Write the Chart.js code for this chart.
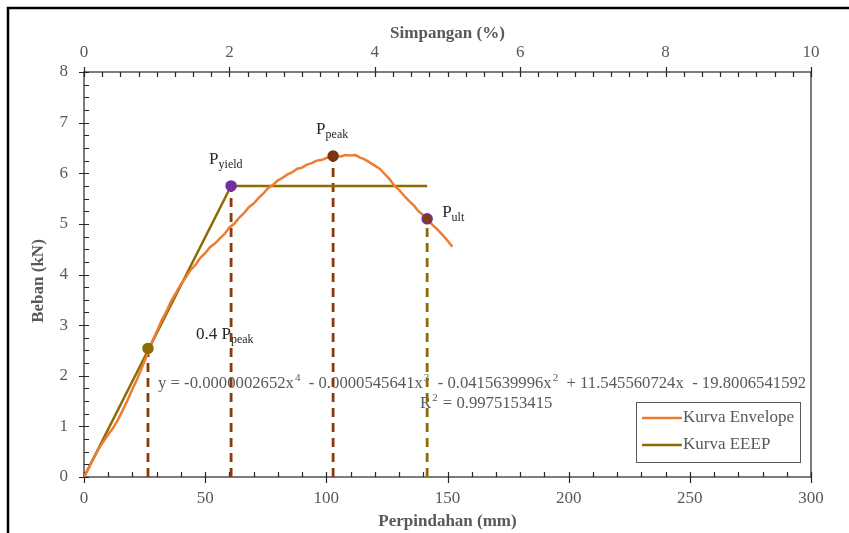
<!DOCTYPE html>
<html>
<head>
<meta charset="utf-8">
<script src="https://cdn.jsdelivr.net/npm/chart.js@4.4.1/dist/chart.umd.min.js"></script>
<style>
    html, body { margin: 0; padding: 0; background: #fff; }
    #wrap { width: 849px; height: 533px; position: relative; }
</style>
</head>
<body>
<div id="wrap"><canvas id="chart-beban" width="849" height="533"></canvas></div>
<script>
// Kurva Envelope (mm, kN)
const envelopeX = [0, 2, 4, 6, 8, 10, 12, 14, 16, 18, 20, 22, 24, 26, 28, 30, 32, 34, 36, 38,
    40, 42, 44, 46, 48, 50, 52, 54, 56, 58, 60, 62, 64, 66, 68, 70, 72, 74, 76, 78,
    80, 82, 84, 86, 88, 90, 92, 94, 96, 98, 100, 102, 104, 106, 108, 110, 112, 114, 116, 118,
    120, 122, 124, 126, 128, 130, 132, 134, 136, 138, 140, 142, 144, 146, 148, 150, 152];
const envelopeY = [0, 0.18, 0.37, 0.55, 0.70, 0.84, 0.97, 1.13, 1.32, 1.52, 1.74, 1.94, 2.17, 2.41, 2.66, 2.87, 3.09, 3.27, 3.48, 3.64,
    3.81, 3.94, 4.09, 4.19, 4.33, 4.42, 4.54, 4.61, 4.71, 4.80, 4.93, 5.00, 5.12, 5.21, 5.33, 5.40, 5.51, 5.60, 5.71, 5.77,
    5.86, 5.91, 5.98, 6.02, 6.09, 6.11, 6.17, 6.20, 6.25, 6.26, 6.30, 6.32, 6.34, 6.33, 6.36, 6.35, 6.36, 6.31, 6.27, 6.21,
    6.15, 6.09, 5.99, 5.89, 5.76, 5.67, 5.56, 5.46, 5.37, 5.25, 5.17, 5.07, 4.97, 4.88, 4.78, 4.67, 4.55];

// Kurva EEEP
const eeepX = [0, 60.7, 141.6];
const eeepY = [0, 5.75, 5.75];

// Titik penting: 0.4 Ppeak, Pyield, Ppeak, Pult
const titikNama = ['0.4 P', 'P', 'P', 'P'];
const titikSub = ['peak', 'yield', 'peak', 'ult'];
const titikX = [26.4, 60.7, 102.8, 141.6];
const titikY = [2.54, 5.75, 6.34, 5.10];

// Sumbu
const xTicks = [0, 50, 100, 150, 200, 250, 300];
const x2Ticks = [0, 2, 4, 6, 8, 10];
const yTicks = [0, 1, 2, 3, 4, 5, 6, 7, 8];

const persamaan = [
    ['y = -0.0000002652x', '4'], ['  - 0.0000545641x', '3'], ['  - 0.0415639996x', '2'],
    ['  + 11.545560724x  - 19.8006541592', '']
];
const rKuadrat = '0.9975153415';

const COLORS = {
    envelope: '#ED7D31',
    eeep: '#8C6D05',
    dashBrown: '#8B3A0F',
    dashOlive: '#8C6D05',
    purple: '#7030A0',
    text: '#595959',
    dark: '#262626'
};
const FONT = '"Liberation Serif", "Times New Roman", serif';
const FS = 17;

const markerFill = [COLORS.eeep, COLORS.purple, '#7B3510', '#843C0C'];
const markerBorder = [COLORS.eeep, COLORS.purple, '#7B3510', COLORS.purple];
const dashColor = [COLORS.dashBrown, COLORS.dashBrown, COLORS.dashBrown, COLORS.dashOlive];

const toXY = (xs, ys) => xs.map((x, i) => ({ x: x, y: ys[i] }));

const datasets = [
    {
        label: 'Kurva Envelope',
        data: toXY(envelopeX, envelopeY),
        borderColor: COLORS.envelope,
        borderWidth: 2.5,
        pointRadius: 0,
        showLine: true,
        order: 2
    },
    {
        label: 'Kurva EEEP',
        data: toXY(eeepX, eeepY),
        borderColor: COLORS.eeep,
        borderWidth: 2.5,
        pointRadius: 0,
        showLine: true,
        order: 3
    }
];

// Garis putus-putus vertikal
titikX.forEach((x, i) => {
    datasets.push({
        label: 'dash' + i,
        data: [{ x: x, y: 0 }, { x: x, y: titikY[i] }],
        borderColor: dashColor[i],
        borderWidth: 2.8,
        borderDash: [9, 6],
        pointRadius: 0,
        showLine: true,
        order: 4
    });
});

// Titik
titikX.forEach((x, i) => {
    datasets.push({
        label: 'titik' + i,
        data: [{ x: x, y: titikY[i] }],
        backgroundColor: markerFill[i],
        borderColor: markerBorder[i],
        borderWidth: 1.5,
        pointRadius: 5,
        showLine: false,
        order: 0
    });
});

function drawSub(ctx, x, y, main, sub, size) {
    ctx.font = size + 'px ' + FONT;
    ctx.textAlign = 'left';
    ctx.textBaseline = 'alphabetic';
    ctx.fillText(main, x, y);
    const w = ctx.measureText(main).width;
    ctx.font = Math.round(size * 0.72) + 'px ' + FONT;
    ctx.fillText(sub, x + w, y + 4);
}

const gambarPlugin = {
    id: 'gambar',
    beforeDatasetsDraw(chart) {
        const { ctx, chartArea: a, scales } = chart;
        const sx = scales.x, sy = scales.y, sx2 = scales.x2;
        ctx.save();

        // Rahmen dokumen
        ctx.strokeStyle = '#000';
        ctx.lineWidth = 2.5;
        ctx.beginPath();
        ctx.moveTo(8, 533);
        ctx.lineTo(8, 8);
        ctx.lineTo(849, 8);
        ctx.stroke();

        // Kotak area plot
        ctx.strokeStyle = '#262626';
        ctx.lineWidth = 1.2;
        ctx.strokeRect(a.left, a.top, a.right - a.left, a.bottom - a.top);

        // Tick mayor & minor
        ctx.lineWidth = 1.2;
        ctx.beginPath();
        for (let v = 0; v <= 8.001; v += 0.25) {
            const py = Math.round(sy.getPixelForValue(v)) + 0.5;
            const major = Math.abs(v - Math.round(v)) < 0.01;
            ctx.moveTo(major ? a.left - 5 : a.left, py);
            ctx.lineTo(a.left + 5, py);
        }
        for (let v = 0; v <= 300.01; v += 10) {
            const px = Math.round(sx.getPixelForValue(v)) + 0.5;
            const major = v % 50 === 0;
            ctx.moveTo(px, major ? a.bottom + 6 : a.bottom);
            ctx.lineTo(px, a.bottom - 5);
        }
        for (let v = 0; v <= 10.001; v += 0.25) {
            const px = Math.round(sx2.getPixelForValue(v)) + 0.5;
            const major = Math.abs(v / 2 - Math.round(v / 2)) < 0.01;
            ctx.moveTo(px, major ? a.top - 5 : a.top);
            ctx.lineTo(px, a.top + 5);
        }
        ctx.stroke();

        // Judul sumbu
        ctx.fillStyle = COLORS.text;
        ctx.font = 'bold ' + FS + 'px ' + FONT;
        ctx.textAlign = 'center';
        ctx.textBaseline = 'middle';
        ctx.fillText('Simpangan (%)', (a.left + a.right) / 2, 34);
        ctx.fillText('Perpindahan (mm)', (a.left + a.right) / 2, 522);
        ctx.save();
        ctx.translate(39, 281);
        ctx.rotate(-Math.PI / 2);
        ctx.fillText('Beban (kN)', 0, 0);
        ctx.restore();

        // Persamaan regresi
        ctx.fillStyle = COLORS.text;
        let ex = 158;
        const ey = 388;
        const eqFont = '16.7px ' + FONT;
        persamaan.forEach(([teks, pangkat]) => {
            ctx.font = eqFont;
            ctx.textAlign = 'left';
            ctx.textBaseline = 'alphabetic';
            ctx.fillText(teks, ex, ey);
            ex += ctx.measureText(teks).width;
            if (pangkat) {
                ctx.font = '11px ' + FONT;
                ctx.fillText(pangkat, ex + 1, ey - 7);
                ex += ctx.measureText(pangkat).width + 1;
            }
        });
        ctx.font = eqFont;
        const rx = 420;
        ctx.fillText('R', rx, 408);
        let rw = ctx.measureText('R').width;
        ctx.font = '11px ' + FONT;
        ctx.fillText('2', rx + rw + 1, 401);
        rw += ctx.measureText('2').width + 2;
        ctx.font = eqFont;
        ctx.fillText(' = ' + rKuadrat, rx + rw, 408);

        // Label titik
        ctx.fillStyle = COLORS.dark;
        const offs = [[-48, -8], [-22, -22], [-17, -22], [15, -2]];
        titikX.forEach((x, i) => {
            let px = sx.getPixelForValue(x) + offs[i][0];
            let py = sy.getPixelForValue(titikY[i]) + offs[i][1];
            if (i === 0) {
                px = 196;
                py = 339;
            }
            drawSub(ctx, px, py, titikNama[i], titikSub[i], FS);
        });

        ctx.restore();
    },
    afterDraw(chart) {
        const { ctx } = chart;
        ctx.save();
        // Legenda
        const lx = 636, ly = 402, lw = 164, lh = 60;
        ctx.fillStyle = '#fff';
        ctx.fillRect(lx, ly, lw, lh);
        ctx.strokeStyle = '#595959';
        ctx.lineWidth = 1;
        ctx.strokeRect(lx + 0.5, ly + 0.5, lw, lh);
        const items = [datasets[0], datasets[1]];
        items.forEach((ds, i) => {
            const yy = ly + 16 + i * 27;
            ctx.strokeStyle = ds.borderColor;
            ctx.lineWidth = 2.5;
            ctx.beginPath();
            ctx.moveTo(lx + 6, yy);
            ctx.lineTo(lx + 46, yy);
            ctx.stroke();
            ctx.fillStyle = COLORS.text;
            ctx.font = FS + 'px ' + FONT;
            ctx.textAlign = 'left';
            ctx.textBaseline = 'middle';
            ctx.fillText(ds.label, lx + 47, yy);
        });
        ctx.restore();
    }
};

const tickFont = { family: FONT, size: FS };

new Chart(document.getElementById('chart-beban'), {
    type: 'scatter',
    data: { datasets: datasets },
    options: {
        responsive: false,
        animation: false,
        devicePixelRatio: 1,
        layout: { padding: { left: 0, right: 38, top: 0, bottom: 0 } },
        plugins: {
            legend: { display: false },
            tooltip: { enabled: false }
        },
        scales: {
            x: {
                type: 'linear',
                position: 'bottom',
                min: 0,
                max: 300,
                afterBuildTicks: (s) => { s.ticks = xTicks.map(v => ({ value: v })); },
                afterFit: (s) => { s.height = 56; },
                grid: { display: false },
                border: { display: false },
                ticks: { font: tickFont, color: COLORS.text, padding: 3, maxRotation: 0 }
            },
            x2: {
                type: 'linear',
                position: 'top',
                min: 0,
                max: 10,
                afterBuildTicks: (s) => { s.ticks = x2Ticks.map(v => ({ value: v })); },
                afterFit: (s) => { s.height = 72; },
                grid: { display: false },
                border: { display: false },
                ticks: { font: tickFont, color: COLORS.text, padding: 1, maxRotation: 0 }
            },
            y: {
                type: 'linear',
                min: 0,
                max: 8,
                afterBuildTicks: (s) => { s.ticks = yTicks.map(v => ({ value: v })); },
                afterFit: (s) => { s.width = 84; },
                grid: { display: false },
                border: { display: false },
                ticks: { font: tickFont, color: COLORS.text, padding: 8 }
            }
        }
    },
    plugins: [gambarPlugin]
});
</script>
</body>
</html>
